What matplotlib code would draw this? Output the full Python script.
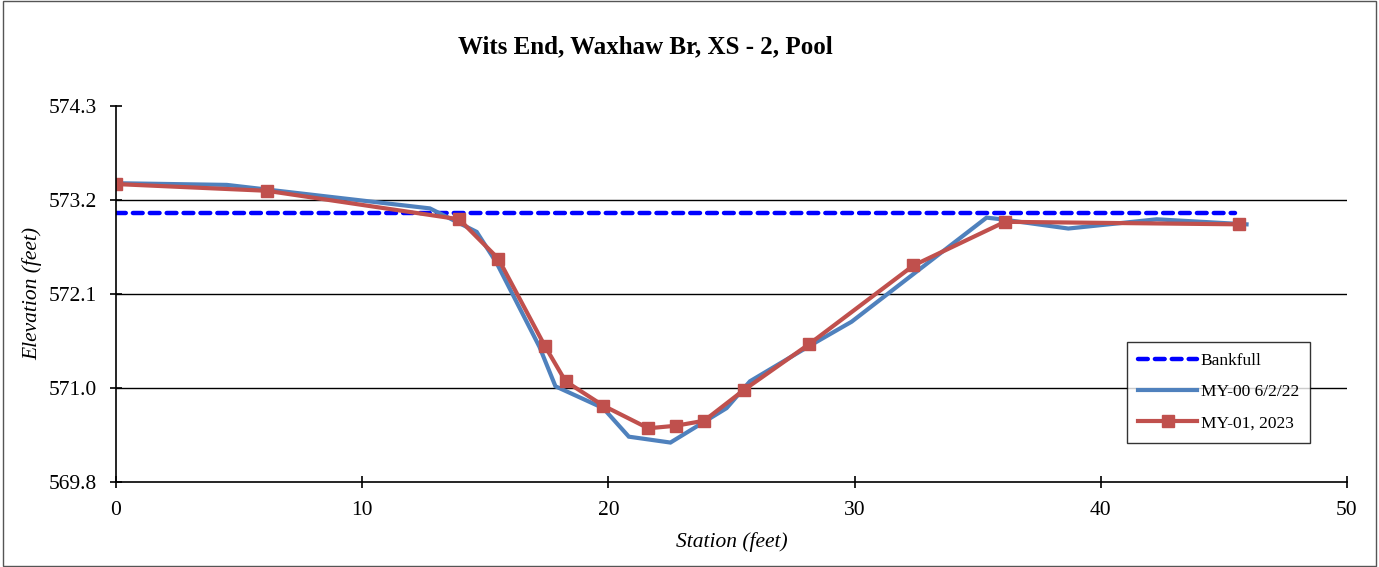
import matplotlib
matplotlib.use("Agg")
import matplotlib.pyplot as plt
from matplotlib.patches import Rectangle

# Data
title = "Wits End, Waxhaw Br, XS - 2, Pool"
bankfull_x = [0.0, 45.45]
bankfull_y = [573.05, 573.05]

my00_x = [0.0, 4.5, 12.75, 14.65, 15.46, 17.2, 17.85, 19.79, 20.83, 22.52, 24.8, 25.75, 28.1, 29.88, 35.36, 35.97, 38.68, 42.27, 45.92]
my00_y = [573.40, 573.38, 573.10, 572.82, 572.45, 571.45, 570.98, 570.72, 570.38, 570.31, 570.72, 571.04, 571.45, 571.75, 572.99, 572.97, 572.86, 572.97, 572.91]

my01_x = [0.0, 6.12, 13.94, 15.53, 17.42, 18.26, 19.79, 21.62, 22.73, 23.89, 25.52, 28.14, 32.39, 36.11, 45.62]
my01_y = [573.39, 573.31, 572.97, 572.50, 571.46, 571.04, 570.75, 570.48, 570.51, 570.57, 570.94, 571.48, 572.42, 572.94, 572.91]

x_ticks = [0, 10, 20, 30, 40, 50]
y_ticks = [569.84, 570.96, 572.08, 573.20, 574.32]
y_tick_labels = ["569.8", "571.0", "572.1", "573.2", "574.3"]

plt.rcParams['font.family'] = ['Liberation Serif', 'DejaVu Serif']

fig = plt.figure(figsize=(13.79, 5.67), dpi=100)
ax = fig.add_axes([116/1379, 1 - 482/567, (1347-116)/1379, (482-106)/567])

ax.plot(bankfull_x, bankfull_y, color='#0000FF', lw=3.2, ls=(0, (2.2, 1.6)),
        dash_capstyle='round', label='Bankfull', zorder=3)
ax.plot(my00_x, my00_y, color='#4F81BD', lw=3.0, label='MY-00 6/2/22', zorder=4,
        solid_joinstyle='miter')
ax.plot(my01_x, my01_y, color='#C0504D', lw=3.0, marker='s', markersize=8.5,
        label='MY-01, 2023', zorder=5)

ax.set_xlim(0, 50)
ax.set_ylim(y_ticks[0], y_ticks[-1])
ax.set_xticks(x_ticks)
ax.set_xticklabels([str(t) for t in x_ticks])
ax.set_yticks(y_ticks)
ax.set_yticklabels(y_tick_labels)

for yv in y_ticks[1:-1]:
    ax.axhline(yv, color='black', lw=1.0, zorder=1)

for s in ['top', 'right']:
    ax.spines[s].set_visible(False)
for s in ['left', 'bottom']:
    ax.spines[s].set_linewidth(1.2)
    ax.spines[s].set_zorder(6)

ax.tick_params(axis='both', direction='inout', length=9, width=1.2, labelsize=15.5)
ax.tick_params(axis='y', pad=9)
ax.tick_params(axis='x', pad=9)

ax.set_xlabel('Station (feet)', fontsize=15.5, fontstyle='italic', labelpad=9)
ax.set_ylabel('Elevation (feet)', fontsize=15.5, fontstyle='italic', labelpad=5)

fig.text(645/1379, 1 - 47/567, title, fontsize=18, fontweight='bold',
         ha='center', va='center')

leg = ax.legend(loc='upper left', bbox_to_anchor=((1127-116)/(1347-116), 1 - (342-106)/(482-106)),
                frameon=True, fancybox=False, edgecolor='black', fontsize=12.5,
                handlelength=3.4, handletextpad=0.2, labelspacing=0.85,
                borderpad=0.65, borderaxespad=0)
leg.get_frame().set_linewidth(1.0)

fig.patches.append(Rectangle((0.002, 0.002), 0.996, 0.996, transform=fig.transFigure,
                             fill=False, edgecolor='#555555', lw=1.0))

fig.savefig('out.png', dpi=100)
